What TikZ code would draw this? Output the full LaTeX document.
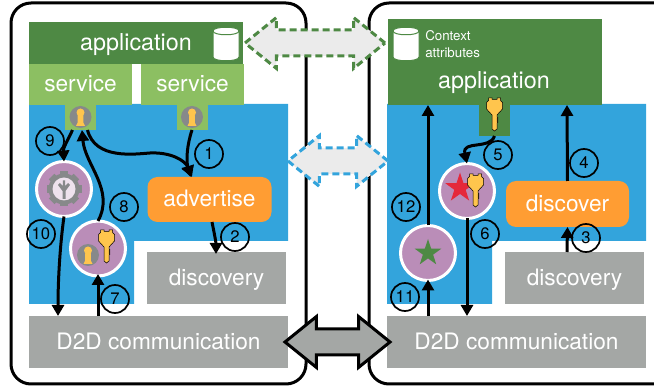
\documentclass[tikz,border=0pt]{standalone}
\usepackage{fontspec}
\setmainfont{TeX Gyre Heros}
\usetikzlibrary{arrows.meta,shapes.geometric,shapes.arrows}
\definecolor{appgreen}{RGB}{78,137,68}
\definecolor{srvgreen}{RGB}{140,191,98}
\definecolor{netblue}{RGB}{51,164,220}
\definecolor{boxgray}{RGB}{164,167,165}
\definecolor{advorange}{RGB}{255,157,51}
\definecolor{ckpurple}{RGB}{186,141,184}
\definecolor{keyyellow}{RGB}{255,197,77}
\definecolor{holegray}{RGB}{135,137,138}
\definecolor{starred}{RGB}{229,40,58}
\definecolor{syncfill}{RGB}{235,235,235}
\def\px{0.75pt}
\tikzset{
    frame/.style={draw=black,line width=3*\px,rounded corners=20*\px},
    block/.style={inner sep=0pt,outer sep=0pt,text=white,text height=12.5pt,text depth=1.5pt,font=\fontsize{17}{20}\selectfont},
    appbox/.style={block,fill=appgreen,font=\fontsize{17.5}{20}\selectfont},
    srvbox/.style={block,fill=srvgreen},
    graybox/.style={block,fill=boxgray},
    orangebox/.style={block,fill=advorange,rounded corners=10*\px},
    ckdisc/.style={circle,draw=white,fill=ckpurple,line width=3*\px,minimum size=55*\px,inner sep=0pt,outer sep=0pt},
    numlabel/.style={circle,draw=black,line width=1.7*\px,minimum size=28*\px,inner sep=0pt,font=\fontsize{12.5}{13}\selectfont},
    flow/.style={draw=black,line width=3*\px,-{Triangle[length=11*\px,width=12*\px]}},
    syncarrow/.style={double arrow,inner sep=11.5*\px,outer sep=0pt,double arrow head extend=12.5*\px,double arrow tip angle=78},
    syncdash/.style={dash pattern=on 7*\px off 4*\px,line width=3*\px,fill=syncfill},
}
\newcommand{\keyicon}[2]{
    \draw[shift={(#1,#2)},fill=keyyellow,draw=black,line width=0.5*\px]
        (-6,0) -- (-2.5,0) -- (-2.5,1.5) -- (2.5,1.5) -- (2.5,0) -- (6,0) -- (6,2.5) -- (8,4.5) -- (8,11) -- (2.5,17)
        -- (2.5,19) -- (3.5,20) -- (2.5,21) -- (3.5,22) -- (2.5,23) -- (3.5,24) -- (2.5,25) -- (2.5,31) -- (0,33)
        -- (-2.5,31) -- (-2.5,17) -- (-8,11) -- (-8,4.5) -- (-6,2.5) -- cycle;
}
\newcommand{\holeicon}[2]{
    \fill[shift={(#1,#2)},holegray] (0,0) circle (11);
    \fill[shift={(#1,#2)},keyyellow] (0,-4.5) circle (4);
    \fill[shift={(#1,#2)},keyyellow] (-2.7,-3) -- (2.7,-3) -- (3,6) -- (4.5,9) -- (-4.5,9) -- (-3,6) -- cycle;
}
\newcommand{\dbicon}[2]{
    \draw[shift={(#1,#2)},fill=white,draw=appgreen,line width=1*\px]
        (-13,-13) -- (-13,13) .. controls (-13,18) and (13,18) .. (13,13) -- (13,-13)
        .. controls (13,-18) and (-13,-18) .. (-13,-13) -- cycle;
    \draw[shift={(#1,#2)},draw=appgreen,line width=1*\px] (-13,-13) .. controls (-13,-8) and (13,-8) .. (13,-13);
}
\begin{document}
\begin{tikzpicture}[x=0.75pt,y=0.75pt,yscale=-1,xscale=1]
    \useasboundingbox (0,0) rectangle (654,388);

    % devices
    \draw[frame] (11,3) rectangle (306,384);
    \draw[frame] (369,3) rectangle (680,384);

    % blue background
    \fill[netblue] (29,104) -- (288,104) -- (288,241) -- (134,241) -- (134,304) -- (29,304) -- cycle;
    \fill[netblue] (387,104) -- (646,104) -- (646,241) -- (492,241) -- (492,304) -- (387,304) -- cycle;

    % left stack
    \node[appbox,minimum width=214*\px,minimum height=42*\px] (appA) at (136,43) {application};
    \node[srvbox,minimum width=103*\px,minimum height=41*\px] (srvA) at (80.5,84.5) {service};
    \node[srvbox,minimum width=103*\px,minimum height=41*\px] (srvB) at (192.5,84.5) {service};
    \node[srvbox,minimum width=31*\px,minimum height=26*\px] (tabA) at (80.5,117) {};
    \node[srvbox,minimum width=31*\px,minimum height=26*\px] (tabB) at (192,117) {};
    \node[orangebox,minimum width=124*\px,minimum height=45*\px] (advertise) at (209.5,199.5) {advertise};
    \node[graybox,minimum width=139*\px,minimum height=52*\px] (discA) at (216.5,278) {discovery};
    \node[graybox,minimum width=259*\px,minimum height=52*\px] (dtdA) at (158.5,342) {D2D communication};
    \node[ckdisc] (gearA) at (64,189) {};
    \node[ckdisc] (keyA) at (98,248.5) {};

    % right stack
    \node[appbox,minimum width=214*\px,minimum height=86*\px] (appB) at (495,62) {};
    \node[block,font=\fontsize{17.5}{20}\selectfont] (appBlabel) at (494,81) {application};
    \node[inner sep=0pt,text=white,align=left,anchor=west,font=\fontsize{10}{12.2}\selectfont] (ctxlabel) at (425,44) {Context\\attributes};
    \node[appbox,minimum width=31*\px,minimum height=32*\px] (tabC) at (494.5,120) {};
    \node[orangebox,minimum width=123*\px,minimum height=46*\px] (discover) at (567.5,204) {discover};
    \node[graybox,minimum width=139*\px,minimum height=52*\px] (discB) at (574.5,278) {discovery};
    \node[graybox,minimum width=259*\px,minimum height=52*\px] (dtdB) at (516.5,342) {D2D communication};
    \node[ckdisc] (keyB) at (467,191) {};
    \node[ckdisc] (starB) at (428,253) {};

    % icons
    \dbicon{226}{44}
    \dbicon{406}{44}
    \holeicon{80.5}{117}
    \holeicon{192}{117}
    \holeicon{88}{255}
    \keyicon{106.5}{230}
    \keyicon{494.5}{98}
    \node[star,star points=5,star point ratio=2.6,fill=starred,minimum size=31*\px,inner sep=0pt] (starR) at (460,188) {};
    \keyicon{475.5}{174}
    \node[star,star points=5,star point ratio=2.6,fill=appgreen,minimum size=28*\px,inner sep=0pt] (starG) at (428,253) {};

    % gear
    \foreach \a in {0,45,...,315}
        \fill[holegray,rotate around={\a:(64,189)}] (60,171.5) rectangle (68,176);
    \fill[holegray] (64,189) circle (15.5);
    \fill[white!75!ckpurple] (64,189) circle (11.5);
    \fill[holegray] (60,183) -- (62.8,186) -- (62.8,180.5) -- (65.2,180.5) -- (65.2,186) -- (68,183) -- (70,185) -- (65.5,191) -- (65.5,199) -- (62.5,199) -- (62.5,191) -- (58,185) -- cycle;

    % sync arrows
    \node[syncarrow,syncdash,draw=appgreen,minimum height=140*\px] (syncapp) at (315,43) {};
    \node[syncarrow,syncdash,draw=netblue,minimum height=100*\px] (syncnet) at (338,161) {};
    \node[syncarrow,draw=black,line width=3*\px,fill=boxgray,minimum height=105*\px] (syncdtd) at (337.5,342) {};

    % left flows
    \draw[flow] ([xshift=-8*\px]tabA.south) .. controls (68,140) and (63,148) .. (gearA.north);
    \draw[flow] (keyA.north) .. controls (115,190) and (85,165) .. ([xshift=1.5*\px]tabA.south);
    \draw[flow] ([xshift=7*\px]tabA.south) .. controls (95,160) and (135,154) .. (150,153) .. controls (170,152) and (185,160) .. ([xshift=-17.5*\px]advertise.north);
    \draw[flow] (tabB.south) .. controls (187,145) and (186,160) .. ([xshift=-19*\px]advertise.north);
    \draw[flow] ([xshift=2.5*\px]advertise.south) .. controls (214,232) and (216,242) .. ([xshift=-0.5*\px,yshift=2*\px]discA.north);
    \draw[flow] (gearA.south) .. controls (60,245) and (58,280) .. ([xshift=-100.5*\px]dtdA.north);
    \draw[flow] ([xshift=-60.5*\px]dtdA.north) -- ([yshift=-2*\px]keyA.south);

    % right flows
    \draw[flow] (starB.north) -- ([xshift=-67*\px]appB.south);
    \draw[flow] (discover.north) -- ([xshift=72*\px]appB.south);
    \draw[flow] (tabC.south) .. controls (490,150) and (462,140) .. (keyB.north);
    \draw[flow] (keyB.south) -- ([xshift=-49.5*\px]dtdB.north);
    \draw[flow] ([xshift=-7.5*\px]discB.north) -- (discover.south);
    \draw[flow] ([xshift=-88.5*\px]dtdB.north) -- ([yshift=-1*\px]starB.south);

    % step numbers
    \node[numlabel] (stepa) at (209,154) {1};
    \node[numlabel] (stepb) at (235,237) {2};
    \node[numlabel] (stepc) at (586,238) {3};
    \node[numlabel] (stepd) at (584,163) {4};
    \node[numlabel] (stepe) at (498,155) {5};
    \node[numlabel] (stepf) at (485,234) {6};
    \node[numlabel] (stepg) at (115,299) {7};
    \node[numlabel] (steph) at (124,207) {8};
    \node[numlabel] (stepi) at (50,141) {9};
    \node[numlabel] (stepj) at (41,234) {10};
    \node[numlabel] (stepk) at (405,297) {11};
    \node[numlabel] (stepl) at (406,207) {12};
\end{tikzpicture}
\end{document}
